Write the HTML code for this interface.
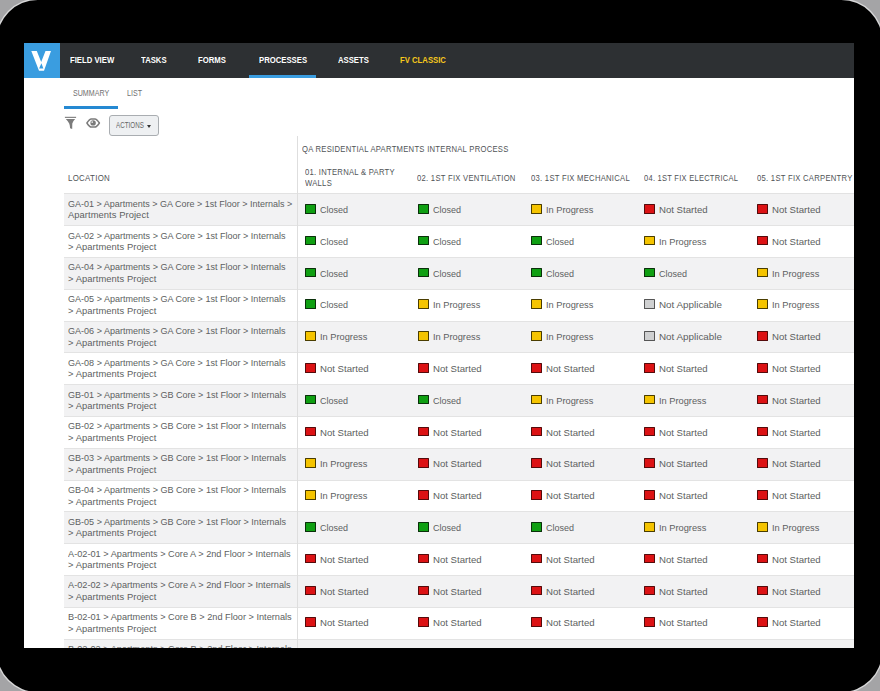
<!DOCTYPE html>
<html><head><meta charset="utf-8">
<style>
html,body{margin:0;padding:0;}
body{width:880px;height:691px;overflow:hidden;background:#a4a4a6;position:relative;font-family:"Liberation Sans",sans-serif;}
.tablet{position:absolute;left:-2.8px;top:-0.45px;width:884.3px;height:692px;border-radius:40.7px;background:#000;box-shadow:0 0 0 1.4px rgba(232,232,232,0.75);}
.screen{position:absolute;left:24px;top:43px;width:829.5px;height:605px;background:#fff;overflow:hidden;}
.hdr{position:absolute;left:0;top:0;width:100%;height:34.5px;background:#2d3033;}
.logo{position:absolute;left:0;top:0;width:36px;height:34.5px;background:#3a9de0;}
.logo svg{position:absolute;left:0;top:0;}
.nav{position:absolute;top:10.6px;font-size:9.8px;line-height:12px;font-weight:bold;color:#fff;transform:scaleX(0.788);transform-origin:0 0;white-space:nowrap;}
.navbar{position:absolute;left:225px;top:32px;width:67px;height:3px;background:#3a9de0;}
.tab{position:absolute;top:44.6px;font-size:8.6px;line-height:10px;color:#717171;transform:scaleX(0.825);transform-origin:0 0;white-space:nowrap;}
.tabbar{position:absolute;left:40px;top:62.6px;width:54px;height:3px;background:#2589d2;}
.btn{position:absolute;left:85px;top:72.3px;width:49.7px;height:20.5px;box-sizing:border-box;border:1px solid #a9adb1;border-radius:3px;background:#eef0f2;}
.btn span{position:absolute;left:5.9px;top:5px;font-size:8.3px;line-height:9px;color:#666;transform:scaleX(0.755);transform-origin:0 0;white-space:nowrap;}
.caret{position:absolute;left:36.6px;top:8.4px;width:0;height:0;border-left:2.6px solid transparent;border-right:2.6px solid transparent;border-top:3px solid #333;}
.th{position:absolute;font-size:9.9px;line-height:11.2px;color:#505356;letter-spacing:0.35px;transform:scaleX(0.775);transform-origin:0 0;white-space:nowrap;}
.hline{position:absolute;left:40px;top:149.8px;width:800px;height:1.8px;background:#e2e2e2;}
.vline{position:absolute;left:273px;top:93px;width:1px;height:520px;background:#dedede;z-index:3;}
.row{position:absolute;left:40px;width:800px;height:31.8px;border-bottom:1px solid #e3e3e3;box-sizing:border-box;background:#fff;}
.row.odd{background:#f2f2f3;}
.l1{display:block;height:11.6px;transform-origin:0 0;}
.l2{display:block;height:11.6px;letter-spacing:0.06px}
.loc{position:absolute;left:4px;top:3.4px;font-size:9.4px;line-height:11.6px;color:#5d5f61;white-space:nowrap;}
.st{position:absolute;top:0;height:31px;width:110px;font-size:9.8px;line-height:11px;color:#5d5f61;white-space:nowrap;}
.st span{position:absolute;left:15.6px;top:9.6px;display:inline-block;transform-origin:0 0;}
.st i{position:absolute;left:0.2px;top:9.6px;box-sizing:border-box;width:11.5px;height:9.6px;border:1px solid #222;border-radius:0.6px;}
i.g{background:#0f9f12;border-color:#0a300a;}
i.y{background:#f5c400;border-color:#4a3d00;}
i.r{background:#dc1214;border-color:#550b0b;}
i.a{background:#cfd0d1;border-color:#555;}
</style></head><body>
<div class="tablet"></div>
<div class="screen">
 <div class="hdr">
  <div class="logo"><svg width="36" height="35" viewBox="0 0 36 35"><path fill="#fff" fill-rule="evenodd" d="M7.3 8 L12.8 8 L17.2 19 L21.5 8 L27 8 L20 27.7 L15 27.7 Z M15.1 25.4 L19.4 25.4 L17.4 20.3 Z"/></svg></div>
  <div class="nav" style="left:45.8px">FIELD VIEW</div>
  <div class="nav" style="left:117.1px">TASKS</div>
  <div class="nav" style="left:174.2px">FORMS</div>
  <div class="nav" style="left:234.6px">PROCESSES</div>
  <div class="nav" style="left:313.7px">ASSETS</div>
  <div class="nav" style="left:375.8px;color:#f6c81c">FV CLASSIC</div>
  <div class="navbar"></div>
 </div>
 <div class="tab" style="left:49px">SUMMARY</div>
 <div class="tab" style="left:103px">LIST</div>
 <div class="tabbar"></div>
 <svg style="position:absolute;left:39px;top:72px" width="15" height="16" viewBox="0 0 15 16">
  <rect x="1.9" y="1.8" width="11.2" height="1.1" fill="#7b7b7b"/>
  <path d="M2.8 4 L12.1 4 Q9.7 6.4 9.3 8.6 L9.2 14 L7.1 13.3 Q6.9 10 6.2 8.6 Q5.3 6.4 2.8 4 Z" fill="#7b7b7b"/>
 </svg>
 <svg style="position:absolute;left:61px;top:74px" width="17" height="13" viewBox="0 0 17 13">
  <path d="M1.9 6 Q4.6 1.9 6.2 1.9 L10 1.9 Q11.6 1.9 14.4 6 Q11.6 10.1 10 10.1 L6.2 10.1 Q4.6 10.1 1.9 6 Z" fill="none" stroke="#7b7b7b" stroke-width="1.5" stroke-linejoin="round"/>
  <circle cx="8.1" cy="5.9" r="2.7" fill="#7b7b7b"/>
  <circle cx="7.2" cy="5.1" r="0.9" fill="#e8e8e8"/>
 </svg>
 <div class="btn"><span>ACTIONS</span><div class="caret"></div></div>
 <div class="vline"></div>
 <div class="th" style="left:278.3px;top:100.1px">QA RESIDENTIAL APARTMENTS INTERNAL PROCESS</div>
 <div class="th" style="left:43.6px;top:129px;transform:scaleX(0.80)">LOCATION</div>
 <div class="th" style="left:281px;top:123.1px">01. INTERNAL &amp; PARTY<br>WALLS</div>
 <div class="th" style="left:393.3px;top:128.9px">02. 1ST FIX VENTILATION</div>
 <div class="th" style="left:506.6px;top:128.9px">03. 1ST FIX MECHANICAL</div>
 <div class="th" style="left:619.5px;top:128.9px;transform:scaleX(0.76)">04. 1ST FIX ELECTRICAL</div>
 <div class="th" style="left:732.7px;top:128.9px">05. 1ST FIX CARPENTRY</div>
 <div class="hline"></div>
<div class="row odd" style="top:151.40px"><div class="loc"><span class="l1" style="transform:scaleX(0.959)">GA-01 &gt; Apartments &gt; GA Core &gt; 1st Floor &gt; Internals &gt;</span><span class="l2">Apartments Project</span></div><div class="st" style="left:240.6px"><i class="g"></i><span style="transform:scaleX(0.92)">Closed</span></div><div class="st" style="left:353.6px"><i class="g"></i><span style="transform:scaleX(0.92)">Closed</span></div><div class="st" style="left:466.6px"><i class="y"></i><span style="transform:scaleX(0.945)">In Progress</span></div><div class="st" style="left:579.6px"><i class="r"></i><span style="transform:scaleX(0.98)">Not Started</span></div><div class="st" style="left:692.6px"><i class="r"></i><span style="transform:scaleX(0.98)">Not Started</span></div></div>
<div class="row" style="top:183.20px"><div class="loc"><span class="l1" style="transform:scaleX(0.964)">GA-02 &gt; Apartments &gt; GA Core &gt; 1st Floor &gt; Internals</span><span class="l2">&gt; Apartments Project</span></div><div class="st" style="left:240.6px"><i class="g"></i><span style="transform:scaleX(0.92)">Closed</span></div><div class="st" style="left:353.6px"><i class="g"></i><span style="transform:scaleX(0.92)">Closed</span></div><div class="st" style="left:466.6px"><i class="g"></i><span style="transform:scaleX(0.92)">Closed</span></div><div class="st" style="left:579.6px"><i class="y"></i><span style="transform:scaleX(0.945)">In Progress</span></div><div class="st" style="left:692.6px"><i class="r"></i><span style="transform:scaleX(0.98)">Not Started</span></div></div>
<div class="row odd" style="top:215.00px"><div class="loc"><span class="l1" style="transform:scaleX(0.964)">GA-04 &gt; Apartments &gt; GA Core &gt; 1st Floor &gt; Internals</span><span class="l2">&gt; Apartments Project</span></div><div class="st" style="left:240.6px"><i class="g"></i><span style="transform:scaleX(0.92)">Closed</span></div><div class="st" style="left:353.6px"><i class="g"></i><span style="transform:scaleX(0.92)">Closed</span></div><div class="st" style="left:466.6px"><i class="g"></i><span style="transform:scaleX(0.92)">Closed</span></div><div class="st" style="left:579.6px"><i class="g"></i><span style="transform:scaleX(0.92)">Closed</span></div><div class="st" style="left:692.6px"><i class="y"></i><span style="transform:scaleX(0.945)">In Progress</span></div></div>
<div class="row" style="top:246.80px"><div class="loc"><span class="l1" style="transform:scaleX(0.964)">GA-05 &gt; Apartments &gt; GA Core &gt; 1st Floor &gt; Internals</span><span class="l2">&gt; Apartments Project</span></div><div class="st" style="left:240.6px"><i class="g"></i><span style="transform:scaleX(0.92)">Closed</span></div><div class="st" style="left:353.6px"><i class="y"></i><span style="transform:scaleX(0.945)">In Progress</span></div><div class="st" style="left:466.6px"><i class="y"></i><span style="transform:scaleX(0.945)">In Progress</span></div><div class="st" style="left:579.6px"><i class="a"></i><span style="transform:scaleX(1.005)">Not Applicable</span></div><div class="st" style="left:692.6px"><i class="y"></i><span style="transform:scaleX(0.945)">In Progress</span></div></div>
<div class="row odd" style="top:278.60px"><div class="loc"><span class="l1" style="transform:scaleX(0.964)">GA-06 &gt; Apartments &gt; GA Core &gt; 1st Floor &gt; Internals</span><span class="l2">&gt; Apartments Project</span></div><div class="st" style="left:240.6px"><i class="y"></i><span style="transform:scaleX(0.945)">In Progress</span></div><div class="st" style="left:353.6px"><i class="y"></i><span style="transform:scaleX(0.945)">In Progress</span></div><div class="st" style="left:466.6px"><i class="y"></i><span style="transform:scaleX(0.945)">In Progress</span></div><div class="st" style="left:579.6px"><i class="a"></i><span style="transform:scaleX(1.005)">Not Applicable</span></div><div class="st" style="left:692.6px"><i class="r"></i><span style="transform:scaleX(0.98)">Not Started</span></div></div>
<div class="row" style="top:310.40px"><div class="loc"><span class="l1" style="transform:scaleX(0.964)">GA-08 &gt; Apartments &gt; GA Core &gt; 1st Floor &gt; Internals</span><span class="l2">&gt; Apartments Project</span></div><div class="st" style="left:240.6px"><i class="r"></i><span style="transform:scaleX(0.98)">Not Started</span></div><div class="st" style="left:353.6px"><i class="r"></i><span style="transform:scaleX(0.98)">Not Started</span></div><div class="st" style="left:466.6px"><i class="r"></i><span style="transform:scaleX(0.98)">Not Started</span></div><div class="st" style="left:579.6px"><i class="r"></i><span style="transform:scaleX(0.98)">Not Started</span></div><div class="st" style="left:692.6px"><i class="r"></i><span style="transform:scaleX(0.98)">Not Started</span></div></div>
<div class="row odd" style="top:342.20px"><div class="loc"><span class="l1" style="transform:scaleX(0.964)">GB-01 &gt; Apartments &gt; GB Core &gt; 1st Floor &gt; Internals</span><span class="l2">&gt; Apartments Project</span></div><div class="st" style="left:240.6px"><i class="g"></i><span style="transform:scaleX(0.92)">Closed</span></div><div class="st" style="left:353.6px"><i class="g"></i><span style="transform:scaleX(0.92)">Closed</span></div><div class="st" style="left:466.6px"><i class="y"></i><span style="transform:scaleX(0.945)">In Progress</span></div><div class="st" style="left:579.6px"><i class="y"></i><span style="transform:scaleX(0.945)">In Progress</span></div><div class="st" style="left:692.6px"><i class="r"></i><span style="transform:scaleX(0.98)">Not Started</span></div></div>
<div class="row" style="top:374.00px"><div class="loc"><span class="l1" style="transform:scaleX(0.964)">GB-02 &gt; Apartments &gt; GB Core &gt; 1st Floor &gt; Internals</span><span class="l2">&gt; Apartments Project</span></div><div class="st" style="left:240.6px"><i class="r"></i><span style="transform:scaleX(0.98)">Not Started</span></div><div class="st" style="left:353.6px"><i class="r"></i><span style="transform:scaleX(0.98)">Not Started</span></div><div class="st" style="left:466.6px"><i class="r"></i><span style="transform:scaleX(0.98)">Not Started</span></div><div class="st" style="left:579.6px"><i class="r"></i><span style="transform:scaleX(0.98)">Not Started</span></div><div class="st" style="left:692.6px"><i class="r"></i><span style="transform:scaleX(0.98)">Not Started</span></div></div>
<div class="row odd" style="top:405.80px"><div class="loc"><span class="l1" style="transform:scaleX(0.964)">GB-03 &gt; Apartments &gt; GB Core &gt; 1st Floor &gt; Internals</span><span class="l2">&gt; Apartments Project</span></div><div class="st" style="left:240.6px"><i class="y"></i><span style="transform:scaleX(0.945)">In Progress</span></div><div class="st" style="left:353.6px"><i class="r"></i><span style="transform:scaleX(0.98)">Not Started</span></div><div class="st" style="left:466.6px"><i class="r"></i><span style="transform:scaleX(0.98)">Not Started</span></div><div class="st" style="left:579.6px"><i class="r"></i><span style="transform:scaleX(0.98)">Not Started</span></div><div class="st" style="left:692.6px"><i class="r"></i><span style="transform:scaleX(0.98)">Not Started</span></div></div>
<div class="row" style="top:437.60px"><div class="loc"><span class="l1" style="transform:scaleX(0.964)">GB-04 &gt; Apartments &gt; GB Core &gt; 1st Floor &gt; Internals</span><span class="l2">&gt; Apartments Project</span></div><div class="st" style="left:240.6px"><i class="y"></i><span style="transform:scaleX(0.945)">In Progress</span></div><div class="st" style="left:353.6px"><i class="r"></i><span style="transform:scaleX(0.98)">Not Started</span></div><div class="st" style="left:466.6px"><i class="r"></i><span style="transform:scaleX(0.98)">Not Started</span></div><div class="st" style="left:579.6px"><i class="r"></i><span style="transform:scaleX(0.98)">Not Started</span></div><div class="st" style="left:692.6px"><i class="r"></i><span style="transform:scaleX(0.98)">Not Started</span></div></div>
<div class="row odd" style="top:469.40px"><div class="loc"><span class="l1" style="transform:scaleX(0.964)">GB-05 &gt; Apartments &gt; GB Core &gt; 1st Floor &gt; Internals</span><span class="l2">&gt; Apartments Project</span></div><div class="st" style="left:240.6px"><i class="g"></i><span style="transform:scaleX(0.92)">Closed</span></div><div class="st" style="left:353.6px"><i class="g"></i><span style="transform:scaleX(0.92)">Closed</span></div><div class="st" style="left:466.6px"><i class="g"></i><span style="transform:scaleX(0.92)">Closed</span></div><div class="st" style="left:579.6px"><i class="y"></i><span style="transform:scaleX(0.945)">In Progress</span></div><div class="st" style="left:692.6px"><i class="y"></i><span style="transform:scaleX(0.945)">In Progress</span></div></div>
<div class="row" style="top:501.20px"><div class="loc"><span class="l1" style="transform:scaleX(0.98)">A-02-01 &gt; Apartments &gt; Core A &gt; 2nd Floor &gt; Internals</span><span class="l2">&gt; Apartments Project</span></div><div class="st" style="left:240.6px"><i class="r"></i><span style="transform:scaleX(0.98)">Not Started</span></div><div class="st" style="left:353.6px"><i class="r"></i><span style="transform:scaleX(0.98)">Not Started</span></div><div class="st" style="left:466.6px"><i class="r"></i><span style="transform:scaleX(0.98)">Not Started</span></div><div class="st" style="left:579.6px"><i class="r"></i><span style="transform:scaleX(0.98)">Not Started</span></div><div class="st" style="left:692.6px"><i class="r"></i><span style="transform:scaleX(0.98)">Not Started</span></div></div>
<div class="row odd" style="top:533.00px"><div class="loc"><span class="l1" style="transform:scaleX(0.98)">A-02-02 &gt; Apartments &gt; Core A &gt; 2nd Floor &gt; Internals</span><span class="l2">&gt; Apartments Project</span></div><div class="st" style="left:240.6px"><i class="r"></i><span style="transform:scaleX(0.98)">Not Started</span></div><div class="st" style="left:353.6px"><i class="r"></i><span style="transform:scaleX(0.98)">Not Started</span></div><div class="st" style="left:466.6px"><i class="r"></i><span style="transform:scaleX(0.98)">Not Started</span></div><div class="st" style="left:579.6px"><i class="r"></i><span style="transform:scaleX(0.98)">Not Started</span></div><div class="st" style="left:692.6px"><i class="r"></i><span style="transform:scaleX(0.98)">Not Started</span></div></div>
<div class="row" style="top:564.80px"><div class="loc"><span class="l1" style="transform:scaleX(0.98)">B-02-01 &gt; Apartments &gt; Core B &gt; 2nd Floor &gt; Internals</span><span class="l2">&gt; Apartments Project</span></div><div class="st" style="left:240.6px"><i class="r"></i><span style="transform:scaleX(0.98)">Not Started</span></div><div class="st" style="left:353.6px"><i class="r"></i><span style="transform:scaleX(0.98)">Not Started</span></div><div class="st" style="left:466.6px"><i class="r"></i><span style="transform:scaleX(0.98)">Not Started</span></div><div class="st" style="left:579.6px"><i class="r"></i><span style="transform:scaleX(0.98)">Not Started</span></div><div class="st" style="left:692.6px"><i class="r"></i><span style="transform:scaleX(0.98)">Not Started</span></div></div>
<div class="row odd" style="top:596.60px"><div class="loc"><span class="l1" style="transform:scaleX(0.98)">B-02-02 &gt; Apartments &gt; Core B &gt; 2nd Floor &gt; Internals</span><span class="l2">&gt; Apartments Project</span></div><div class="st" style="left:240.6px"><i class="r"></i><span style="transform:scaleX(0.98)">Not Started</span></div><div class="st" style="left:353.6px"><i class="r"></i><span style="transform:scaleX(0.98)">Not Started</span></div><div class="st" style="left:466.6px"><i class="r"></i><span style="transform:scaleX(0.98)">Not Started</span></div><div class="st" style="left:579.6px"><i class="r"></i><span style="transform:scaleX(0.98)">Not Started</span></div><div class="st" style="left:692.6px"><i class="r"></i><span style="transform:scaleX(0.98)">Not Started</span></div></div>
</div>
</body></html>
